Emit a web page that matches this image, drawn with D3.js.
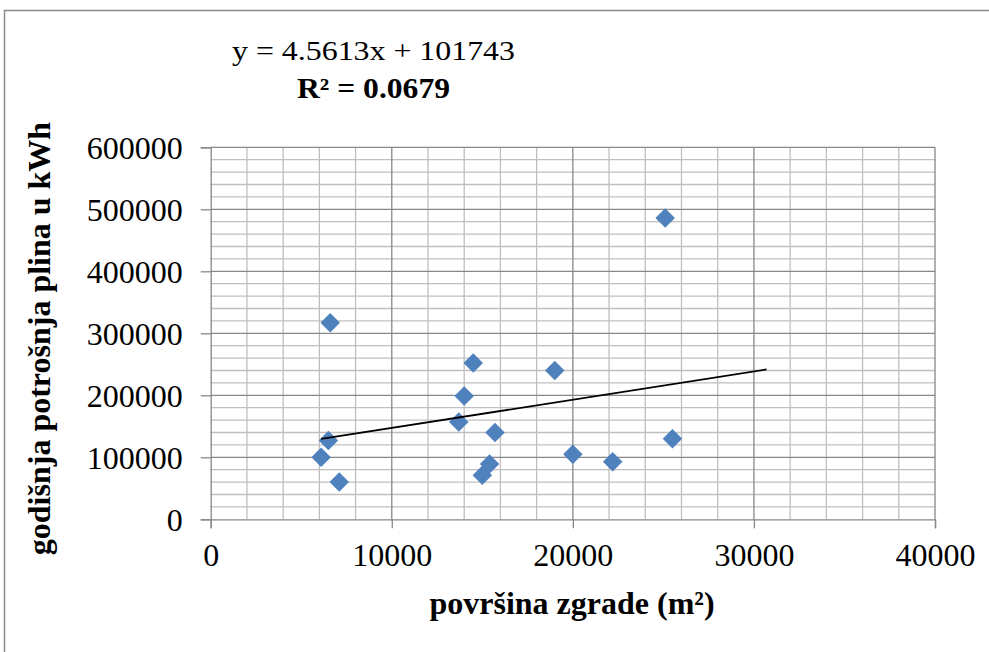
<!DOCTYPE html>
<html>
<head>
<meta charset="utf-8">
<script src="https://cdn.jsdelivr.net/npm/d3@7"></script>
<style>
  html, body { margin: 0; padding: 0; background: #fff; }
  svg { display: block; font-family: "Liberation Serif", "Times New Roman", serif; }
</style>
</head>
<body>
<svg id="chart" width="989" height="652"></svg>
<script>
// ---- data ----
const areas = [6600, 6500, 6100, 7100, 13700, 14000, 14500, 15000, 15400, 15700, 19000, 20000, 22200, 25100, 25500];
const gasUse = [317000, 127000, 100000, 60000, 157000, 199000, 252000, 71000, 89000, 140000, 240000, 105000, 93000, 486000, 130000];
const xTicks = [0, 10000, 20000, 30000, 40000];
const yTicks = [0, 100000, 200000, 300000, 400000, 500000, 600000];
const trendSlope = 4.5613;
const trendIntercept = 101743;
const trendRange = [6100, 30700];
const equationText = "y = 4.5613x + 101743";
const r2Text = "R² = 0.0679";
const xTitle = "površina zgrade (m²)";
const yTitle = "godišnja potrošnja plina u kWh";

// ---- layout ----
const svg = d3.select("#chart");
const x = d3.scaleLinear().domain([0, 40000]).range([210.7, 935]);
const y = d3.scaleLinear().domain([0, 600000]).range([519.3, 147.3]);

// outer chart border (top + left visible)
svg.append("path")
  .attr("d", "M4.5,652 L4.5,10.5 L989,10.5")
  .attr("fill", "none").attr("stroke", "#8a8a8a").attr("stroke-width", 1.5);

const g = svg.append("g");

// minor grid
const minorX = d3.range(0, 40001, 2000).filter(v => v % 10000 !== 0);
const minorY = d3.range(0, 600001, 20000).filter(v => v % 100000 !== 0);
g.selectAll(".mx").data(minorX).join("line")
  .attr("x1", d => x(d)).attr("x2", d => x(d))
  .attr("y1", y(0)).attr("y2", y(600000))
  .attr("stroke", "#bfbfbf").attr("stroke-width", 1.3);
g.selectAll(".my").data(minorY).join("line")
  .attr("x1", x(0)).attr("x2", x(40000))
  .attr("y1", d => y(d)).attr("y2", d => y(d))
  .attr("stroke", "#bfbfbf").attr("stroke-width", 1.3);

// major grid
g.selectAll(".Mx").data(xTicks.filter(v => v > 0)).join("line")
  .attr("x1", d => x(d)).attr("x2", d => x(d))
  .attr("y1", y(0)).attr("y2", y(600000))
  .attr("stroke", "#878787").attr("stroke-width", 1.3);
g.selectAll(".My").data(yTicks.filter(v => v > 0)).join("line")
  .attr("x1", x(0)).attr("x2", x(40000))
  .attr("y1", d => y(d)).attr("y2", d => y(d))
  .attr("stroke", "#878787").attr("stroke-width", 1.3);

// axes
const xAxis = d3.axisBottom(x).tickValues(xTicks).tickSize(9).tickPadding(12).tickFormat(d3.format("d"));
const yAxis = d3.axisLeft(y).tickValues(yTicks).tickSize(10).tickPadding(18).tickFormat(d3.format("d"));
const gx = svg.append("g").attr("transform", `translate(0,${y(0)})`).call(xAxis);
const gy = svg.append("g").attr("transform", `translate(${x(0)},0)`).call(yAxis);
[gx, gy].forEach(a => {
  a.select(".domain").attr("stroke", "#878787").attr("stroke-width", 1.3);
  a.selectAll(".tick line").attr("stroke", "#878787").attr("stroke-width", 1.3);
  a.selectAll(".tick text").attr("font-family", "Liberation Serif").attr("font-size", 32).attr("fill", "#000");
});
gx.selectAll(".tick text").attr("dy", null).attr("y", 47);
gy.selectAll(".tick text").attr("dy", "0.34em");

// points (diamonds)
const diamond = d3.symbol().type(d3.symbolDiamond2 || d3.symbolSquare).size(190);
svg.append("g").selectAll("path").data(areas.map((a, i) => [a, gasUse[i]])).join("path")
  .attr("d", d3.symbol().type(d3.symbolSquare).size(190))
  .attr("transform", d => `translate(${x(d[0])},${y(d[1])}) rotate(45)`)
  .attr("fill", "#4f81bd");

// trendline
svg.append("line")
  .attr("x1", x(trendRange[0])).attr("y1", y(trendSlope * trendRange[0] + trendIntercept))
  .attr("x2", x(trendRange[1])).attr("y2", y(trendSlope * trendRange[1] + trendIntercept))
  .attr("stroke", "#000").attr("stroke-width", 1.8);

// equation labels
svg.append("text").attr("x", 373.5).attr("y", 60).attr("text-anchor", "middle")
  .attr("font-size", 28).attr("textLength", 283).attr("lengthAdjust", "spacingAndGlyphs")
  .text(equationText);
svg.append("text").attr("x", 373.5).attr("y", 98).attr("text-anchor", "middle")
  .attr("font-size", 29).attr("font-weight", "bold").attr("textLength", 153).attr("lengthAdjust", "spacingAndGlyphs")
  .text(r2Text);

// axis titles
svg.append("text").attr("x", 572).attr("y", 614).attr("text-anchor", "middle")
  .attr("font-size", 32).attr("font-weight", "bold").text(xTitle);
svg.append("text").attr("transform", "translate(50,338.5) rotate(-90)").attr("text-anchor", "middle")
  .attr("font-size", 32).attr("font-weight", "bold").text(yTitle);
</script>
</body>
</html>
